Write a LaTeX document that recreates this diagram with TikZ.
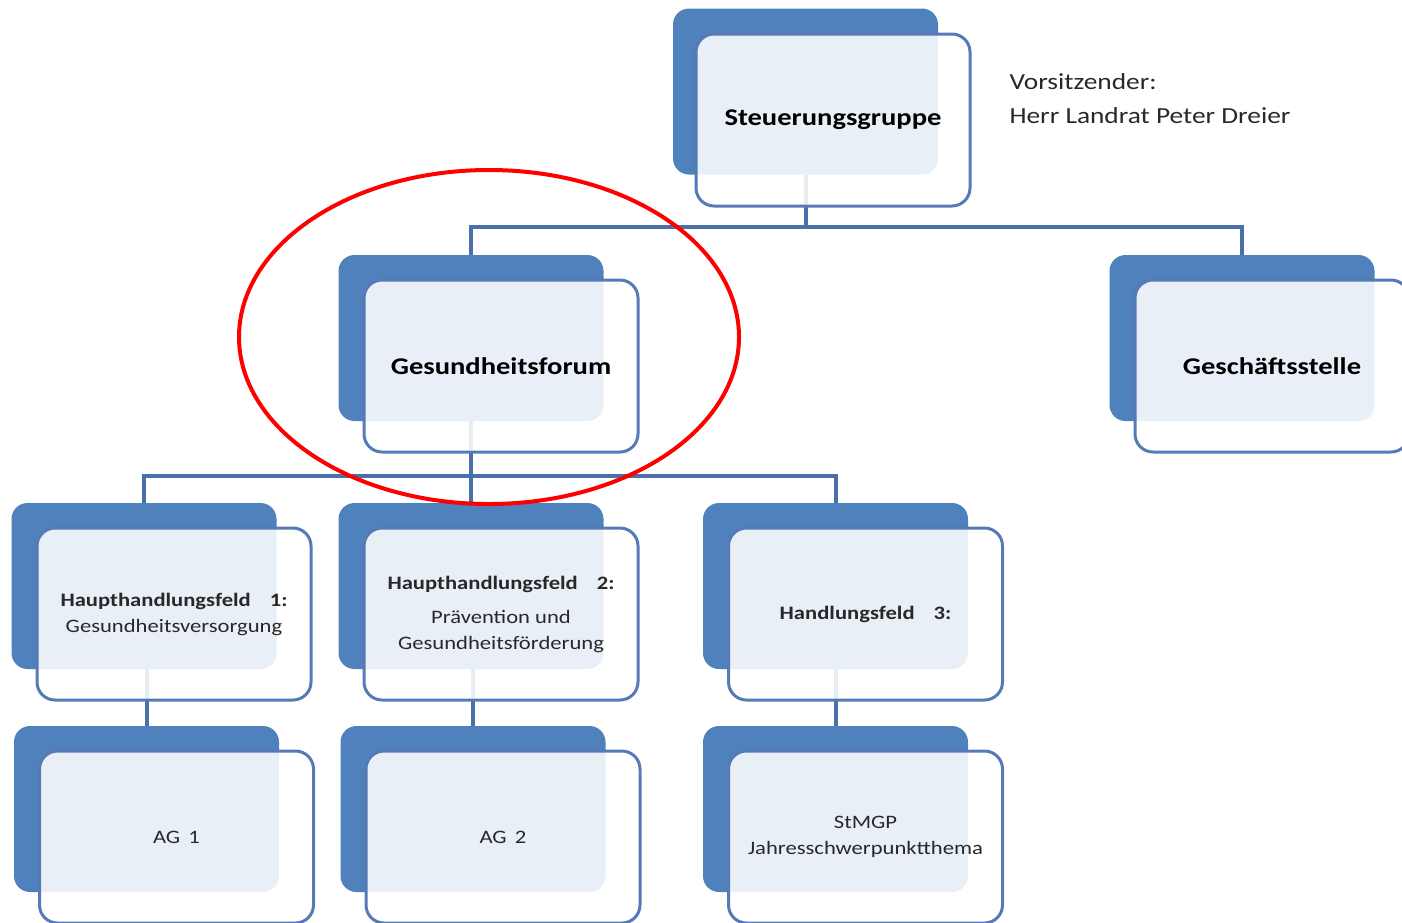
\documentclass[tikz,border=0pt]{standalone}
\usepackage{fontspec}
\setmainfont{Carlito}[FakeStretch=1.19]
\usetikzlibrary{positioning,calc}

\definecolor{boxblue}{RGB}{79,129,189}
\definecolor{rimblue}{RGB}{86,122,182}
\definecolor{linkblue}{RGB}{74,112,170}
\definecolor{txtgray}{RGB}{40,40,40}

\begin{document}
\begin{tikzpicture}[x=1pt,y=-1pt,
  shadowbox/.style={fill=boxblue, rounded corners=16pt, minimum width=265, minimum height=166, inner sep=0pt},
  mainbox/.style={draw=rimblue, line width=3pt, fill=white, fill opacity=0.88, text opacity=1, rounded corners=18pt,
    minimum width=274, minimum height=172, align=center, text=txtgray, font=\fontsize{19}{26}\selectfont},
  bigtitle/.style={font=\fontsize{24}{28}\selectfont\bfseries, text=black},
  link/.style={draw=linkblue, line width=4pt}]
\useasboundingbox (0,0) rectangle (1402,922);

\coordinate (j1) at (805.5,227);
\coordinate (j2) at (471,476);

% connectors first, the boxes lie over them
\draw[link] (805.5,175) -- (j1) -| (1242,256);
\draw[link] (j1) -| (471,256);
\draw[link] (471,421) -- (j2) -| (144,504);
\draw[link] (j2) -| (835.5,504);
\draw[link] (j2) -- (471,504);

\node[shadowbox] (sgb) at (805.5,91.5) {};
\node[shadowbox] (gfb) at (471,338) {};
\node[shadowbox] (gsb) at (1242,338) {};
\node[shadowbox] (h1b) at (144,586) {};
\node[shadowbox] (h2b) at (471,586) {};
\node[shadowbox] (h3b) at (835.5,586) {};
\node[shadowbox] (a1b) at (146.5,809) {};
\node[shadowbox] (a2b) at (473,809) {};
\node[shadowbox] (a3b) at (835.5,809) {};

\draw[link] (h1b.south -| a1b) -- (a1b.north);
\draw[link] (h2b.south -| a2b) -- (a2b.north);
\draw[link] (h3b.south) -- (a3b.north);

\node[mainbox, bigtitle] (sg) at (833,120) {Steuerungsgruppe};
\node[mainbox, bigtitle] (gf) at (501,366) {Gesundheitsforum};
\node[mainbox, bigtitle] (gs) at (1272,366) {Geschäftsstelle};
\node[mainbox] (h1) at (174,614) {\textbf{Haupthandlungsfeld\quad 1:}\\Gesundheitsversorgung};
\node[mainbox] (h2) at (501,614) {\textbf{Haupthandlungsfeld\quad 2:}\\[8pt]Prävention und\\Gesundheitsförderung};
\node[mainbox] (h3) at (865.5,614) {\textbf{Handlungsfeld\quad 3:}};
\node[mainbox] (a1) at (176.5,837) {AG\, 1};
\node[mainbox] (a2) at (503,837) {AG\, 2};
\node[mainbox] (a3) at (865.5,837) {StMGP\\Jahresschwerpunktthema};

\node[anchor=north west, align=left, text=txtgray, font=\fontsize{23}{34}\selectfont] (vs) at (1006,70) {Vorsitzender:\\Herr Landrat Peter Dreier};

%\node (focus) at (489,337) {};
\draw[red, line width=4pt] (489,337) ellipse [x radius=250, y radius=167];
\end{tikzpicture}
\end{document}
